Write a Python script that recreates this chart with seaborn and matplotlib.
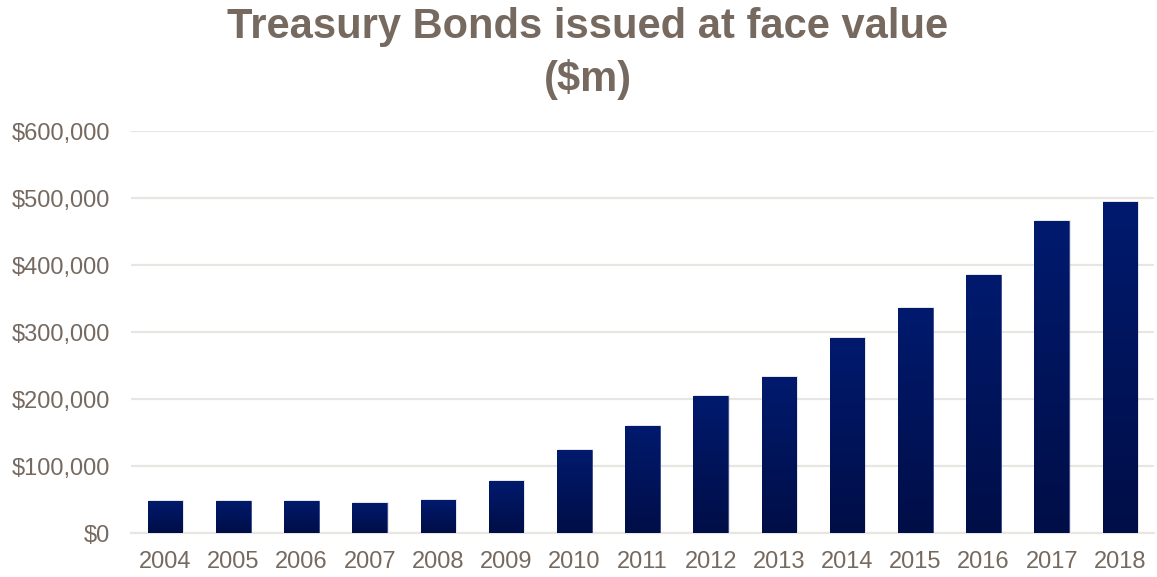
import numpy as np
import pandas as pd
import matplotlib
matplotlib.use("Agg")
import matplotlib.pyplot as plt
from matplotlib.colors import LinearSegmentedColormap
from matplotlib.ticker import FuncFormatter
import seaborn as sns

# Treasury Bonds issued at face value, $m
years = ["2004", "2005", "2006", "2007", "2008", "2009", "2010", "2011",
         "2012", "2013", "2014", "2015", "2016", "2017", "2018"]
values = [48000, 48000, 48000, 45500, 49500, 78000, 124000, 160500,
          204500, 233500, 291000, 336000, 385000, 465500, 495000]
y_ticks = [0, 100000, 200000, 300000, 400000, 500000, 600000]

TEXT = "#766A60"
GRID = "#E9E5E2"
BAR_TOP = "#011A6E"
BAR_BOTTOM = "#000E47"

sns.set_theme(style="white")
plt.rcParams["font.family"] = ["Liberation Sans", "DejaVu Sans"]

df = pd.DataFrame({"year": years, "value": values})

fig = plt.figure(figsize=(11.57, 5.77), dpi=100)
ax = fig.add_axes([131 / 1157, 43.7 / 577, (1154 - 131) / 1157, 402 / 577])

sns.barplot(data=df, x="year", y="value", color=BAR_TOP, width=0.51,
            saturation=1, ax=ax, zorder=3)

# vertical gradient fill for each bar, clipped to the bar shape
cmap = LinearSegmentedColormap.from_list("navy", [BAR_BOTTOM, BAR_TOP])
grad = np.linspace(0, 1, 256).reshape(-1, 1)
for patch in ax.patches:
    x0, y0 = patch.get_x(), patch.get_y()
    w, h = patch.get_width(), patch.get_height()
    # soft shadow behind the bar
    ax.add_patch(plt.Rectangle((x0 + 0.012, y0), w + 0.01, h + 1500,
                               facecolor="#000000", alpha=0.10, lw=0,
                               zorder=2))
    patch.set_edgecolor("#3A4A8C")
    patch.set_linewidth(0.6)
    img = ax.imshow(grad, extent=[x0, x0 + w, y0, y0 + h], origin="lower",
                    cmap=cmap, aspect="auto", zorder=3.5,
                    interpolation="bilinear")
    img.set_clip_path(patch)

ax.set_xlim(-0.5, len(years) - 0.5)
ax.set_ylim(0, 600000)

ax.set_yticks(y_ticks)
ax.yaxis.set_major_formatter(FuncFormatter(lambda v, _: f"${int(v):,}"))
ax.yaxis.grid(True, color=GRID, linewidth=1.6, zorder=0)
ax.set_axisbelow(True)
for s in ["top", "right", "left"]:
    ax.spines[s].set_visible(False)
ax.spines["bottom"].set_color(GRID)
ax.spines["bottom"].set_linewidth(1.6)

ax.tick_params(axis="both", length=0, labelsize=17, colors=TEXT)
ax.tick_params(axis="y", pad=15)
ax.tick_params(axis="x", pad=13)
ax.set_xlabel("")
ax.set_ylabel("")

fig.text(0.508, 0.953, "Treasury Bonds issued at face value",
         ha="center", va="center", fontsize=30, fontweight="bold",
         color=TEXT)
fig.text(0.508, 0.862, "($m)", ha="center", va="center", fontsize=30,
         fontweight="bold", color=TEXT)

fig.savefig("out.png", dpi=100, facecolor="white")
